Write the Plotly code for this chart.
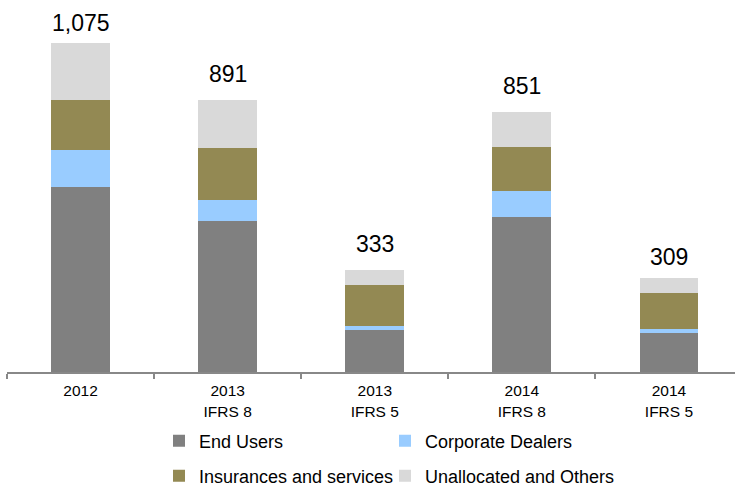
import plotly.graph_objects as go

# Categories shown on the x axis (two-line labels)
categories = ["2012", "2013<br>IFRS 8", "2013<br>IFRS 5", "2014<br>IFRS 8", "2014<br>IFRS 5"]

# Segment values per category
end_users = [604, 495, 136, 506, 126]
corporate_dealers = [123, 66, 16, 87, 14]
insurances_services = [163, 171, 134, 142, 118]
unallocated_others = [185, 159, 47, 116, 51]

series_names = ["End Users", "Corporate Dealers", "Insurances and services", "Unallocated and Others"]
series_colors = ["#808080", "#99CCFF", "#938953", "#D9D9D9"]
series_values = [end_users, corporate_dealers, insurances_services, unallocated_others]

totals = [sum(v) for v in zip(*series_values)]

FONT = "Liberation Sans, Arial, sans-serif"
W, H = 735, 488

# One legend per entry so the 2x2 legend grid can be placed freely
legend_ids = ["legend", "legend2", "legend3", "legend4"]
legend_pos = [(199, 441), (425, 441), (199, 476), (425, 476)]  # text start x, row centre y (px)
label_lift = [5, 11, 11, 11, 6]  # vertical offset of the total labels (px)

fig = go.Figure()
for name, color, vals, lg in zip(series_names, series_colors, series_values, legend_ids):
    fig.add_trace(go.Bar(
        x=list(range(len(categories))), y=vals, name=name, legend=lg,
        marker=dict(color=color, line=dict(width=0)),
        hovertemplate=name + ": %{y}<extra></extra>",
    ))

# Total labels above each stack
for i, (tot, lift) in enumerate(zip(totals, label_lift)):
    fig.add_annotation(
        x=i, y=tot, xref="x", yref="y",
        text=f"{tot:,}", showarrow=False,
        yanchor="bottom", yshift=lift,
        font=dict(family=FONT, size=23, color="#000000"),
    )

legends = {}
for lg, (px, py) in zip(legend_ids, legend_pos):
    legends[lg] = dict(
        orientation="h", xref="container", yref="container",
        x=(px - 40) / W, y=1 - py / H,
        xanchor="left", yanchor="middle",
        font=dict(family=FONT, size=18, color="#000000"),
        bgcolor="rgba(0,0,0,0)", borderwidth=0,
    )

fig.update_layout(
    width=W, height=H,
    barmode="stack", bargap=0.6,
    plot_bgcolor="white", paper_bgcolor="white",
    margin=dict(l=7, r=0, t=5, b=116),
    font=dict(family=FONT, size=15.5, color="#000000"),
    showlegend=True,
    **legends,
    xaxis=dict(
        type="linear", range=[-0.5, 4.449],
        tickmode="array",
        tickvals=list(range(len(categories))), ticktext=categories,
        ticks="", showline=True, linecolor="#888888", linewidth=1.5,
        showgrid=False, zeroline=False, ticklabelstandoff=4,
        tickfont=dict(family=FONT, size=15.5, color="#000000"),
        minor=dict(
            tickmode="array",
            tickvals=[i - 0.5 for i in range(len(categories) + 1)],
            ticks="outside", ticklen=5, tickcolor="#888888", tickwidth=1.5,
            showgrid=False,
        ),
    ),
    yaxis=dict(
        range=[0, 1200], visible=False, showgrid=False, zeroline=False,
    ),
)

fig.write_html("out.html")
